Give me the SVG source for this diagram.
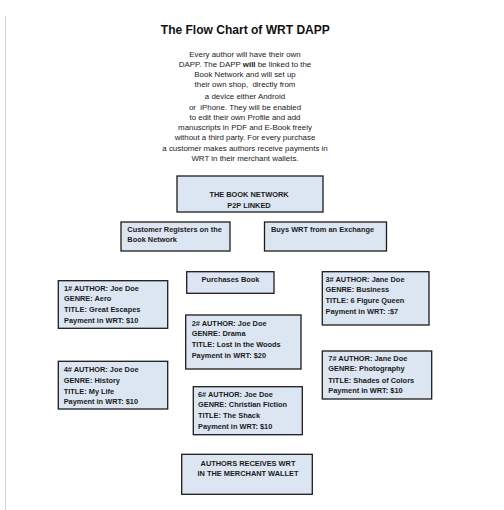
<svg xmlns="http://www.w3.org/2000/svg" width="504" height="510" viewBox="0 0 504 510">
<style>
.bg{fill:#ffffff}
.box{fill:#dce6f2;stroke:#1c1c1c;stroke-width:1.3}
.t{font-family:"Liberation Sans",Arial,sans-serif;font-weight:bold;font-size:7.4px;fill:#1a1a1a}
.c{text-anchor:middle}
.p{font-family:"Liberation Sans",Arial,sans-serif;font-size:7.9px;fill:#1a1a1a;text-anchor:middle}
.title{font-family:"Liberation Sans",Arial,sans-serif;font-weight:bold;font-size:13px;fill:#111;text-anchor:middle}
</style>
<rect class="bg" x="0" y="0" width="504" height="510"/>
<line x1="5.5" y1="16" x2="5.5" y2="510" stroke="#d2d2d2" stroke-width="1"/>
<g id="header">
<text class="title" x="245.3" y="34" textLength="169" lengthAdjust="spacingAndGlyphs">The Flow Chart of WRT DAPP</text>
<g class="p">
<text x="245" y="57">Every author will have their own</text>
<text x="245" y="67">DAPP. The DAPP <tspan font-weight="bold">will</tspan> be linked to the</text>
<text x="245" y="76.5">Book Network and will set up</text>
<text x="245" y="87" xml:space="preserve">their own shop,  directly from</text>
<text x="245" y="98.5">a device either Android</text>
<text x="245" y="109.5" xml:space="preserve">or  iPhone. They will be enabled</text>
<text x="245" y="119.5">to edit their own Profile and add</text>
<text x="245" y="129.5">manuscripts in PDF and E-Book freely</text>
<text x="245" y="140">without a third party. For every purchase</text>
<text x="245" y="150.5">a customer makes authors receive payments in</text>
<text x="245" y="161">WRT in their merchant wallets.</text>
</g>
</g>
<g id="connectors"></g>
<g id="book-network">
<rect class="box" x="177" y="176" width="146" height="36"/>
<text class="t c" x="249" y="197.3">THE BOOK NETWORK</text>
<text class="t c" x="249" y="208.3">P2P LINKED</text>
</g>
<g id="customer-registers">
<rect class="box" x="121" y="222" width="109" height="29"/>
<text class="t" x="127.3" y="232.3">Customer Registers on the</text>
<text class="t" x="127.3" y="242.3">Book Network</text>
</g>
<g id="buys-wrt">
<rect class="box" x="264.5" y="222" width="122" height="29"/>
<text class="t" x="271" y="232.3">Buys WRT from an Exchange</text>
</g>
<g id="purchases-book">
<rect class="box" x="186.7" y="271.7" width="87.3" height="21.6"/>
<text class="t c" x="230.5" y="281.7">Purchases Book</text>
</g>
<g id="author-1">
<rect class="box" x="58.3" y="280.7" width="109.4" height="47.6"/>
<text class="t" x="64" y="290.5">1# AUTHOR: Joe Doe</text>
<text class="t" x="64" y="301">GENRE: Aero</text>
<text class="t" x="64" y="312">TITLE: Great Escapes</text>
<text class="t" x="64" y="322.5">Payment in WRT: $10</text>
</g>
<g id="author-3">
<rect class="box" x="322.3" y="271.7" width="106.7" height="53.3"/>
<text class="t" x="325.5" y="281.7">3# AUTHOR: Jane Doe</text>
<text class="t" x="325.5" y="292.3">GENRE: Business</text>
<text class="t" x="325.5" y="303.3">TITLE: 6 Figure Queen</text>
<text class="t" x="325.5" y="314">Payment in WRT: :$7</text>
</g>
<g id="author-2">
<rect class="box" x="185.7" y="315" width="115.3" height="54"/>
<text class="t" x="191.7" y="326.3">2# AUTHOR: Joe Doe</text>
<text class="t" x="191.7" y="336.3">GENRE: Drama</text>
<text class="t" x="191.7" y="347">TITLE: Lost in the Woods</text>
<text class="t" x="191.7" y="358">Payment in WRT: $20</text>
</g>
<g id="author-7">
<rect class="box" x="322.3" y="351" width="109.4" height="48"/>
<text class="t" x="328.3" y="360.7">7# AUTHOR: Jane Doe</text>
<text class="t" x="328.3" y="371">GENRE: Photography</text>
<text class="t" x="328.3" y="382.7">TITLE: Shades of Colors</text>
<text class="t" x="328.3" y="393">Payment in WRT: $10</text>
</g>
<g id="author-4">
<rect class="box" x="58.3" y="361.3" width="109.4" height="47.7"/>
<text class="t" x="63.7" y="372.3">4# AUTHOR: Joe Doe</text>
<text class="t" x="63.7" y="383">GENRE: History</text>
<text class="t" x="63.7" y="394">TITLE: My Life</text>
<text class="t" x="63.7" y="404.3">Payment in WRT: $10</text>
</g>
<g id="author-6">
<rect class="box" x="193.3" y="386.7" width="109" height="48"/>
<text class="t" x="198" y="397">6# AUTHOR: Joe Doe</text>
<text class="t" x="198" y="407">GENRE: Christian Fiction</text>
<text class="t" x="198" y="418.3">TITLE: The Shack</text>
<text class="t" x="198" y="429">Payment in WRT: $10</text>
</g>
<g id="authors-receive">
<rect class="box" x="181.7" y="454.3" width="130.6" height="40"/>
<text class="t c" x="248" y="466">AUTHORS RECEIVES WRT</text>
<text class="t c" x="248" y="476">IN THE MERCHANT WALLET</text>
</g>
</svg>
